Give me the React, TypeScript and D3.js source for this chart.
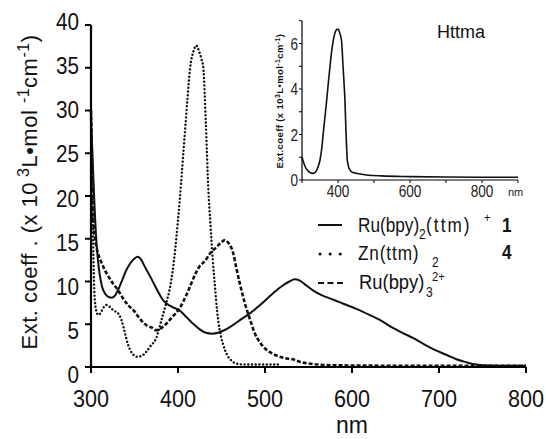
import React from "react";
import * as d3 from "d3";

// ---------- Data ----------
const xTicks = [300, 400, 500, 600, 700, 800];
const yTicks = [0, 5, 10, 15, 20, 25, 30, 35, 40];
const insetXTicks = [400, 600, 800];
const insetYTicks = [0, 2, 4, 6];

// Ru(bpy)2(ttm)+ (1) – solid
const ruTtmX = [300, 302, 304, 306, 308, 310, 313, 316, 320, 324, 328, 332, 336, 340, 345, 350, 354, 358, 362, 368, 375, 383, 390, 396, 402, 410, 417, 425, 432, 439, 446, 453, 460, 470, 483, 495, 509, 520, 528, 534, 540, 548, 556, 565, 578, 590, 605, 620, 632, 645, 658, 670, 682, 695, 709, 720, 730, 739, 750, 770, 800];
const ruTtmY = [29, 24, 19, 15, 12.5, 10.8, 9.3, 8.6, 8.2, 8.1, 8.4, 9.2, 10.2, 11.2, 12.1, 12.7, 12.9, 12.5, 11.7, 10.6, 9.2, 7.8, 7.2, 6.9, 6.6, 5.8, 5.1, 4.4, 4.0, 3.9, 4.0, 4.3, 4.7, 5.4, 6.3, 7.3, 8.6, 9.5, 10.0, 10.25, 10.1, 9.5, 8.9, 8.4, 7.9, 7.4, 6.8, 6.1, 5.5, 4.7, 4.0, 3.4, 2.7, 2.0, 1.4, 0.9, 0.6, 0.35, 0.2, 0.15, 0.15];

// Zn(ttm)2 (4) – dotted
const znX = [300, 301, 302, 303, 304, 306, 308, 311, 314, 318, 322, 326, 331, 335, 339, 342, 345, 349, 353, 358, 363, 368, 375, 381, 386, 391, 396, 400, 402, 405, 408, 411, 414, 418, 421, 424, 427, 429, 432, 435, 437, 440, 442.5, 445, 448, 452, 456, 461, 467, 475, 490, 505, 519];
const znY = [30, 24, 17, 12, 8.5, 6.6, 6.1, 6.3, 6.9, 7.25, 7.0, 6.6, 6.3, 5.5, 4.0, 2.8, 2.0, 1.4, 1.2, 1.3, 1.7, 2.4, 3.4, 5.5, 7.3, 9.4, 13.0, 17.2, 19.5, 23.5, 27.5, 31.5, 35.0, 37.0, 37.6, 37.0, 36.0, 35.1, 28.5, 20.5, 17.2, 12.5, 9.4, 6.5, 4.3, 2.6, 1.5, 0.8, 0.4, 0.3, 0.3, 0.3, 0.3];

// Ru(bpy)3 2+ – dashed
const ruBpyX = [300, 301, 302, 303, 304.6, 307, 310, 313, 316, 320, 325, 331, 337, 343, 350, 355, 360, 365, 370, 375, 380, 386, 393, 402, 410, 415, 420, 425, 431, 437, 443, 449, 454, 458, 463.5, 467, 471, 477, 483, 488, 494, 502, 510, 517, 525, 532, 540, 555, 580, 650, 800];
const ruBpyY = [30, 25, 20, 16.5, 15.0, 13.7, 12.7, 12.0, 11.3, 10.6, 9.8, 9.0, 8.0, 7.2, 6.5, 5.8, 5.2, 4.8, 4.6, 4.3, 4.5, 5.0, 5.8, 6.9, 8.5, 9.7, 10.9, 11.8, 12.4, 13.3, 13.9, 14.5, 14.85, 14.5, 13.3, 11.6, 9.8, 7.4, 5.5, 4.0, 2.9, 2.0, 1.5, 1.2, 1.0, 0.9, 0.6, 0.35, 0.2, 0.15, 0.15];

// Inset: Httma
const httmaX = [300, 305, 310, 318, 325, 331, 338, 344, 350, 355, 359, 364, 368.5, 373, 377.7, 382, 387, 392, 397, 401, 405, 410, 414, 417, 419.3, 422, 424, 425.7, 429, 433, 438, 450, 465, 480, 520, 600, 700, 800, 900];
const httmaY = [1.0, 0.75, 0.55, 0.38, 0.31, 0.29, 0.35, 0.55, 0.88, 1.4, 2.05, 2.8, 3.5, 4.25, 4.98, 5.6, 6.15, 6.48, 6.62, 6.62, 6.45, 6.1, 5.0, 4.2, 3.5, 2.2, 1.4, 0.9, 0.6, 0.45, 0.36, 0.3, 0.25, 0.22, 0.18, 0.15, 0.13, 0.12, 0.12];

const zip = (xs: number[], ys: number[]) => xs.map((x, i) => [x, ys[i]] as [number, number]);

const FONT = "'Liberation Sans', Arial, sans-serif";

// condensed text helper (Calibri-like look)
function CText({ x, y, size, children, bold, sx = 0.86, ls = 0 }: any) {
  return (
    <text
      transform={`translate(${x},${y}) scale(${sx},1)`}
      fontSize={size}
      fontWeight={bold ? "bold" : "normal"}
      letterSpacing={ls}
      fill="#111"
    >
      {children}
    </text>
  );
}

export default function App() {
  // main scales
  const x = d3.scaleLinear().domain([300, 800]).range([91, 526]);
  const y = d3.scaleLinear().domain([0, 40]).range([367, 25]);
  const yLab = d3.scaleLinear().domain([0, 40]).range([383, 30]);
  const line = d3
    .line<[number, number]>()
    .x((d) => x(d[0]))
    .y((d) => y(d[1]))
    .curve(d3.curveMonotoneX);

  // inset scales
  const ix = d3.scaleLinear().domain([300, 900]).range([302, 518]);
  const iy = d3.scaleLinear().domain([0, 7]).range([180, 20.75]);
  const iline = d3
    .line<[number, number]>()
    .x((d) => ix(d[0]))
    .y((d) => iy(d[1]))
    .curve(d3.curveMonotoneX);

  return (
    <svg
      width={546}
      height={439}
      style={{ position: "absolute", left: 0, top: 0, background: "#fff" }}
      fontFamily={FONT}
    >
      <rect width={546} height={439} fill="#fff" />
      {/* curves */}
      <path d={line(zip(ruBpyX, ruBpyY)) || ""} fill="none" stroke="#111" strokeWidth={2.6} strokeDasharray="4 2" />
      <path d={line(zip(znX, znY)) || ""} fill="none" stroke="#111" strokeWidth={2.4} strokeDasharray="0.1 3.6" strokeLinecap="round" />
      <path d={line(zip(ruTtmX, ruTtmY)) || ""} fill="none" stroke="#111" strokeWidth={2} />

      {/* main axes */}
      <line x1={x(300)} x2={x(800)} y1={y(0)} y2={y(0)} stroke="#000" strokeWidth={2.2} />
      <line x1={x(300)} x2={x(300)} y1={y(0)} y2={y(40)} stroke="#000" strokeWidth={2.2} />
      {xTicks.map((t) => (
        <g key={"xt" + t}>
          <line x1={x(t)} x2={x(t)} y1={y(0)} y2={y(0) + 6} stroke="#000" strokeWidth={2} />
          <text transform={`translate(${x(t)},407) scale(0.9,1)`} textAnchor="middle" fontSize={24} fill="#111">
            {t}
          </text>
        </g>
      ))}
      {yTicks.map((t) => (
        <g key={"yt" + t}>
          <line x1={x(300) - 6} x2={x(300)} y1={y(t)} y2={y(t)} stroke="#000" strokeWidth={2} />
          <text transform={`translate(79,${yLab(t)}) scale(0.9,1)`} textAnchor="end" fontSize={23} fill="#111">
            {t}
          </text>
        </g>
      ))}
      <text x={x(600)} y={433} textAnchor="middle" fontSize={23} fill="#111">
        nm
      </text>
      <text transform="translate(37,192) rotate(-90)" textAnchor="middle" fontSize={22} letterSpacing={0.5} fill="#111">
        Ext. coeff . (x 10
        <tspan fontSize={16} dy={-8}> 3</tspan>
        <tspan dy={8}>L•mol </tspan>
        <tspan fontSize={16} dy={-8}>-1</tspan>
        <tspan dy={8}>cm</tspan>
        <tspan fontSize={16} dy={-8}>-1</tspan>
        <tspan dy={8}>)</tspan>
      </text>

      {/* inset */}
      <path d={iline(zip(httmaX, httmaY)) || ""} fill="none" stroke="#111" strokeWidth={1.6} />
      <line x1={ix(300)} x2={ix(900)} y1={iy(0)} y2={iy(0)} stroke="#000" strokeWidth={1.2} />
      <line x1={ix(300)} x2={ix(300)} y1={iy(0)} y2={iy(7)} stroke="#000" strokeWidth={1.2} />
      {d3.range(300, 901, 100).map((t) => (
        <line key={"ixt" + t} x1={ix(t)} x2={ix(t)} y1={iy(0)} y2={iy(0) + 3} stroke="#000" strokeWidth={1} />
      ))}
      {d3.range(0, 8, 1).map((t) => (
        <line key={"iyt" + t} x1={ix(300) - 3} x2={ix(300)} y1={iy(t)} y2={iy(t)} stroke="#000" strokeWidth={1} />
      ))}
      {insetXTicks.map((t) => (
        <text key={"ixl" + t} transform={`translate(${ix(t)},197) scale(0.85,1)`} textAnchor="middle" fontSize={16} fill="#222">
          {t}
        </text>
      ))}
      {insetYTicks.map((t) => (
        <text key={"iyl" + t} transform={`translate(298,${iy(t) + 6}) scale(0.85,1)`} textAnchor="end" fontSize={16} fill="#222">
          {t}
        </text>
      ))}
      <text x={508} y={196} fontSize={11} fill="#222">nm</text>
      <text x={437} y={38} fontSize={18} fill="#111">Httma</text>
      <text transform="translate(283,101) rotate(-90)" textAnchor="middle" fontSize={9.5} fontWeight="bold" letterSpacing={0.4} fill="#111">
        Ext.coeff  (x 10
        <tspan fontSize={7} dy={-3}>3</tspan>
        <tspan dy={3}>L•mol</tspan>
        <tspan fontSize={7} dy={-3}>-1</tspan>
        <tspan dy={3}>cm</tspan>
        <tspan fontSize={7} dy={-3}>-1</tspan>
        <tspan dy={3}>)</tspan>
      </text>

      {/* legend */}
      <line x1={318} x2={342} y1={225} y2={225} stroke="#111" strokeWidth={2} />
      <line x1={320} x2={341} y1={254} y2={254} stroke="#111" strokeWidth={3} strokeDasharray="0.1 10" strokeLinecap="round" />
      <line x1={318} x2={343} y1={283} y2={283} stroke="#111" strokeWidth={2} strokeDasharray="6 3.5" />

      <CText x={358} y={232} size={20}>Ru(bpy)</CText>
      <CText x={419} y={239} size={14}>2</CText>
      <CText x={426} y={232} size={20} ls={2.4}>(ttm)</CText>
      <CText x={484} y={222} size={13}>+</CText>
      <CText x={502} y={232} size={20} bold>1</CText>

      <CText x={358} y={260} size={20} ls={1}>Zn(ttm)</CText>
      <CText x={432} y={267} size={14}>2</CText>
      <CText x={502} y={259} size={20} bold>4</CText>

      <CText x={359} y={289} size={20} sx={0.92}>Ru(bpy)</CText>
      <CText x={426} y={297} size={14}>3</CText>
      <CText x={432} y={281} size={13}>2+</CText>
    </svg>
  );
}
